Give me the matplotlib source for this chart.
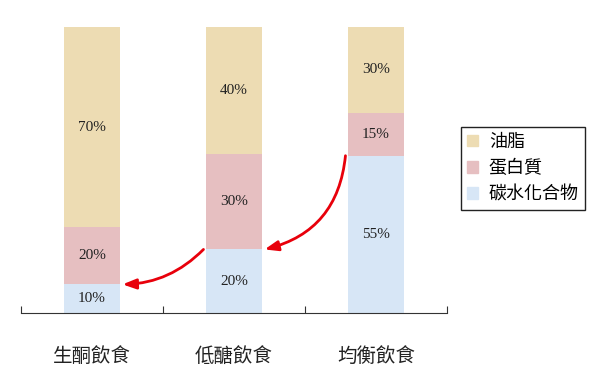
import matplotlib.pyplot as plt
from matplotlib.patches import Patch

plt.rcParams['font.family'] = ['Noto Sans CJK TC', 'DejaVu Sans']

diets = ["生酮飲食", "低醣飲食", "均衡飲食"]
carbs = [10, 20, 55]
protein = [20, 30, 15]
fat = [70, 40, 30]
series_names = ["油脂", "蛋白質", "碳水化合物"]

c_fat = "#EDDCB3"
c_pro = "#E6BFC1"
c_carb = "#D7E6F6"

fig = plt.figure(figsize=(6, 3.68), dpi=100)
ax = fig.add_axes([0.035, 0.1495, 0.71, 0.777])

# 100% stacked: each bar is scaled to its own total
x = list(range(len(diets)))
w = 0.39
tot = [a + b + c for a, b, c in zip(carbs, protein, fat)]
carb_p = [v / t * 100 for v, t in zip(carbs, tot)]
pro_p = [v / t * 100 for v, t in zip(protein, tot)]
fat_p = [v / t * 100 for v, t in zip(fat, tot)]
bottom2 = [a + b for a, b in zip(carb_p, pro_p)]
ax.bar(x, carb_p, w, color=c_carb)
ax.bar(x, pro_p, w, bottom=carb_p, color=c_pro)
ax.bar(x, fat_p, w, bottom=bottom2, color=c_fat)

# percentage labels
for i in x:
    segs = [(carbs[i], carb_p[i], 0), (protein[i], pro_p[i], carb_p[i]),
            (fat[i], fat_p[i], bottom2[i])]
    for val, h, base in segs:
        ax.text(i, base + h / 2, f"{val}%", ha="center", va="center",
                fontsize=11, family="Liberation Serif", color="#222222")

# red arrows: each diet's carb share points to the next lower one
arrows = [(2, 1, -0.35), (1, 0, -0.2)]
for a, b, rad in arrows:
    ax.annotate("", xy=(b + w / 2 + 0.02, carb_p[b]), xytext=(a - w / 2 - 0.02, carb_p[a]),
                arrowprops=dict(arrowstyle="-|>,head_length=0.8,head_width=0.3",
                                color="#E8000B", lw=2,
                                connectionstyle=f"arc3,rad={rad}",
                                shrinkA=0, shrinkB=0))

ax.set_xlim(-0.5, 2.5)
ax.set_ylim(0, 100)
for s in ["top", "right", "left"]:
    ax.spines[s].set_visible(False)
ax.spines["bottom"].set_color("#333333")
ax.set_yticks([])
ax.set_xticks([-0.5, 0.5, 1.5, 2.5])
ax.set_xticklabels([])
ax.tick_params(axis="x", which="major", direction="in", length=5, color="#333333")
ax.set_xticks(x, minor=True)
ax.set_xticklabels(diets, minor=True, fontsize=14, color="#222222")
ax.tick_params(axis="x", which="minor", length=0, pad=24)

handles = [Patch(color=c_fat), Patch(color=c_pro), Patch(color=c_carb)]
leg = fig.legend(handles, series_names, loc="upper left",
                 bbox_to_anchor=(0.753, 0.68), fontsize=13,
                 handlelength=0.6, handleheight=0.6, handletextpad=0.6,
                 labelspacing=0.45, borderpad=0.35, fancybox=False,
                 edgecolor="#222222", framealpha=1)
leg.get_frame().set_linewidth(1)

fig.savefig("out.png", dpi=100)
